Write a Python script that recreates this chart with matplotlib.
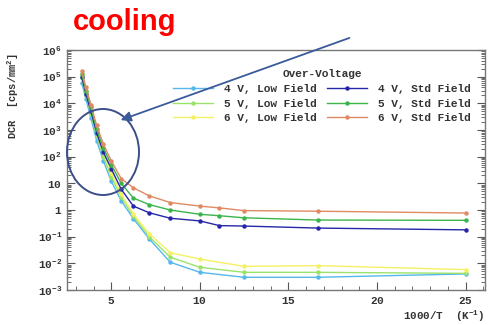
import matplotlib
matplotlib.use("Agg")
import matplotlib.pyplot as plt
import numpy as np
from matplotlib.patches import Ellipse, FancyArrowPatch

plt.rcParams['mathtext.fontset'] = 'custom'
plt.rcParams['mathtext.rm'] = 'Liberation Mono:bold'
plt.rcParams['mathtext.it'] = 'Liberation Mono:bold'
plt.rcParams['mathtext.bf'] = 'Liberation Mono:bold'

# data: 1000/T values
x_low = [3.33, 3.57, 3.85, 4.17, 4.55, 5.0, 5.56, 6.25, 7.14, 8.33, 10.0, 12.5, 16.67, 25.0]
x_std = [3.33, 3.57, 3.85, 4.17, 4.55, 5.0, 5.56, 6.25, 7.14, 8.33, 10.0, 11.1, 12.5, 16.67, 25.0]

low_4v = [6e4, 1.4e4, 2.8e3, 4e2, 70, 12, 2.2, 0.47, 0.083, 0.011, 0.0046, 0.0030, 0.0030, 0.0040]
low_5v = [9e4, 2e4, 4e3, 6e2, 100, 18, 3.0, 0.58, 0.10, 0.017, 0.0071, 0.0046, 0.0046, 0.0042]
low_6v = [1.2e5, 2.8e4, 6e3, 9e2, 150, 25, 4.0, 0.70, 0.13, 0.025, 0.0145, 0.0077, 0.0082, 0.0058]

std_4v = [1.0e5, 2.2e4, 5e3, 8e2, 150, 35, 6.0, 1.4, 0.79, 0.49, 0.39, 0.26, 0.25, 0.21, 0.18]
std_5v = [1.3e5, 3e4, 7e3, 1.1e3, 220, 50, 10, 2.8, 1.6, 1.0, 0.69, 0.61, 0.51, 0.42, 0.41]
std_6v = [1.6e5, 4e4, 9e3, 1.5e3, 300, 70, 15, 6.8, 3.4, 1.9, 1.4, 1.2, 0.95, 0.90, 0.77]

labels_low = ['4 V, Low Field', '5 V, Low Field', '6 V, Low Field']
labels_std = ['4 V, Std Field', '5 V, Std Field', '6 V, Std Field']
ytick_vals = [1e-3, 1e-2, 1e-1, 1, 10, 1e2, 1e3, 1e4, 1e5, 1e6]
ytick_labels = [r'$10^{-3}$', r'$10^{-2}$', r'$10^{-1}$', r'$1$', r'$10$',
                r'$10^{2}$', r'$10^{3}$', r'$10^{4}$', r'$10^{5}$', r'$10^{6}$']
xtick_vals = [5, 10, 15, 20, 25]

c_low = ['#55b8ec', '#9be26a', '#f4f064']
c_std = ['#2626a8', '#3cb44c', '#e08a64']

fig = plt.figure(figsize=(5, 3.25), dpi=100)
W, H = 500, 325
ax = fig.add_axes([67 / W, 1 - 290 / H, (485 - 67) / W, (290 - 50) / H])

handles = []
for yv, c, lab in zip([low_4v, low_5v, low_6v], c_low, labels_low):
    h, = ax.plot(x_low, yv, '-o', color=c, lw=1.0, ms=2.2, label=lab)
    handles.append(h)
for yv, c, lab in zip([std_4v, std_5v, std_6v], c_std, labels_std):
    h, = ax.plot(x_std, yv, '-o', color=c, lw=1.0, ms=2.2, label=lab)
    handles.append(h)

ax.set_yscale('log')
ax.set_ylim(1e-3, 1e6)
ax.set_xlim(2.5, 26.1)
ax.set_yticks(ytick_vals)
ax.set_yticklabels(ytick_labels)
ax.set_xticks(xtick_vals)
ax.set_xticklabels([r'$%d$' % v for v in xtick_vals])
ax.xaxis.set_minor_locator(matplotlib.ticker.MultipleLocator(1))
ax.yaxis.set_minor_locator(matplotlib.ticker.LogLocator(base=10, subs=np.arange(2, 10), numticks=20))
ax.yaxis.set_minor_formatter(matplotlib.ticker.NullFormatter())
ax.tick_params(which='both', direction='in', top=False, right=True, colors='#555555',
               labelcolor='#333333', labelsize=8)
ax.tick_params(which='major', length=6, width=0.8)
ax.tick_params(which='minor', length=3, width=0.6)
for s in ax.spines.values():
    s.set_color('#777777')
    s.set_linewidth(1.0)

leg = ax.legend(handles=handles,
                loc='upper right', ncol=2, frameon=False, title='Over-Voltage',
                prop={'family': 'Liberation Mono', 'weight': 'bold', 'size': 8},
                handlelength=3.6, columnspacing=0.9, labelspacing=0.42, handletextpad=1.0,
                numpoints=1, borderpad=0.2, bbox_to_anchor=(0.985, 0.952))
leg.get_title().set_fontproperties(matplotlib.font_manager.FontProperties(
    family='Liberation Mono', weight='bold', size=8))
for t in leg.get_texts():
    t.set_color('#333333')
leg.get_title().set_color('#333333')

fig.text(13 / W, 1 - 96 / H, 'DCR  [cps/mm$^{2}$]', rotation=90, ha='center', va='center',
         family='Liberation Mono', weight='bold', size=7.5, color='#333333')
fig.text(485 / W, 1 - 316 / H, '1000/T  (K$^{-1}$)', ha='right', va='center',
         family='Liberation Mono', weight='bold', size=7.8, color='#333333')

fig.text(73 / W, 1 - 22 / H, 'cooling', ha='left', va='center', color='#ff0000',
         family='Liberation Sans', weight='bold', size=21)

def px(x, y):
    return (x / W, 1 - y / H)

ell = Ellipse(px(103, 152), 72 / W, 86 / H, transform=fig.transFigure, fill=False,
              edgecolor='#3b4f88', lw=1.4)
fig.add_artist(ell)
arr = FancyArrowPatch(px(352, 37), px(118, 121), transform=fig.transFigure,
                      arrowstyle='-|>,head_length=6,head_width=3', color='#3b5a9a', lw=1.3)
fig.add_artist(arr)

fig.savefig('out.png', dpi=100)
